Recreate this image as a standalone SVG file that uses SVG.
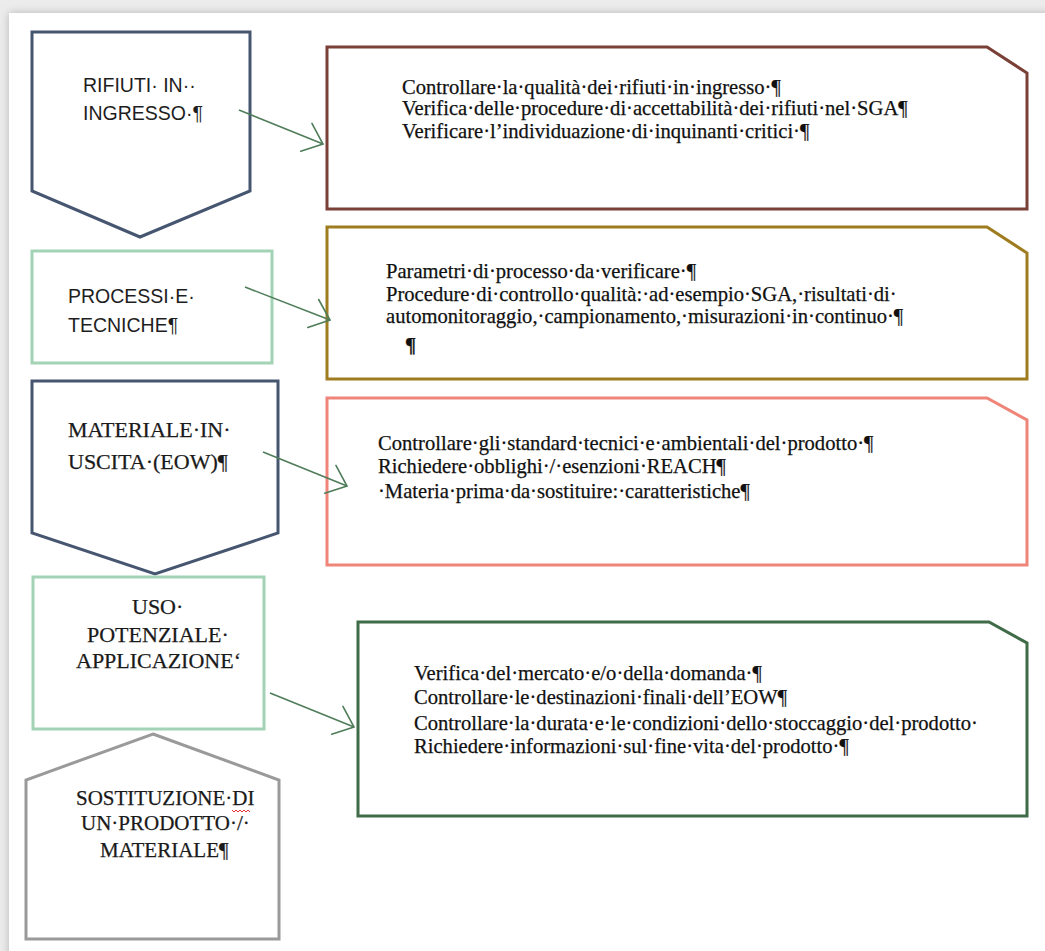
<svg xmlns="http://www.w3.org/2000/svg" width="1045" height="951" viewBox="0 0 1045 951">
  <defs>
    <filter id="shadow" x="-5%" y="-5%" width="110%" height="110%">
      <feGaussianBlur stdDeviation="4"/>
    </filter>
    <marker id="openArrow" markerUnits="userSpaceOnUse" markerWidth="40" markerHeight="40" refX="0" refY="0" viewBox="-20 -20 40 40" orient="auto" overflow="visible">
      <path d="M-18,-15 L0,0 L-18,15" fill="none" stroke="#4f7d5a" stroke-width="1.6" stroke-linecap="round"/>
    </marker>
    <style>
      .shape { fill: #ffffff; stroke-width: 3; stroke-linejoin: miter; }
      .navy { stroke: #465570; }
      .mint { stroke: #a3d3b5; }
      .brown { stroke: #7a4038; }
      .gold { stroke: #9e7c1f; }
      .salmon { stroke: #ef8578; }
      .dkgreen { stroke: #3f6b47; }
      .gray { stroke: #9a9a9a; }
      .sans { font-family: "Liberation Sans", Arial, sans-serif; font-size: 19.5px; fill: #1e1e1e; }
      .serifL { font-family: "Liberation Serif", "Times New Roman", serif; font-size: 22px; fill: #1a1a1a; stroke: #1a1a1a; stroke-width: 0.25; }
      .serifM { font-family: "Liberation Serif", "Times New Roman", serif; font-size: 21px; fill: #1a1a1a; stroke: #1a1a1a; stroke-width: 0.25; }
      .body { font-family: "Liberation Serif", "Times New Roman", serif; font-size: 20.6px; fill: #111111; stroke: #111111; stroke-width: 0.25; }
      .conn { fill: none; stroke: #4f7d5a; stroke-width: 1.6; marker-end: url(#openArrow); }
    </style>
  </defs>

  <!-- page background -->
  <rect x="0" y="0" width="1045" height="951" fill="#ececec"/>
  <rect x="9" y="13" width="1060" height="960" fill="#b5b5b5" filter="url(#shadow)"/>
  <rect x="9" y="13" width="1060" height="960" fill="#ffffff"/>

  <!-- left column nodes -->
  <g id="node-rifiuti">
    <polygon class="shape navy" points="32,32 250,32 250,191 140,237 32,191"/>
    <text class="sans" x="83" y="92">RIFIUTI· IN··</text>
    <text class="sans" x="83" y="120">INGRESSO·¶</text>
  </g>

  <g id="node-processi">
    <rect class="shape mint" x="32" y="251" width="240" height="112"/>
    <text class="sans" x="68" y="303">PROCESSI·E·</text>
    <text class="sans" x="68" y="332">TECNICHE¶</text>
  </g>

  <g id="node-materiale">
    <polygon class="shape navy" points="32,381 278,381 278,533 155,574 32,533"/>
    <text class="serifL" x="68" y="437">MATERIALE·IN·</text>
    <text class="serifL" x="68" y="469">USCITA·(EOW)¶</text>
  </g>

  <g id="node-uso">
    <rect class="shape mint" x="33" y="577" width="231" height="152"/>
    <text class="serifL" x="132" y="614">USO·</text>
    <text class="serifL" x="87" y="642">POTENZIALE·</text>
    <text class="serifL" x="76" y="668">APPLICAZIONE‘</text>
  </g>

  <g id="node-sostituzione">
    <polygon class="shape gray" points="153,734 279,780 279,939 26,939 26,780"/>
    <text class="serifM" x="76" y="805">SOSTITUZIONE·DI</text>
    <path d="M232,810 l2,2 l2,-2 l2,2 l2,-2 l2,2 l2,-2 l2,2 l2,-2 l2,2" fill="none" stroke="#e03030" stroke-width="1"/>
    <text class="serifM" x="81" y="830">UN·PRODOTTO·/·</text>
    <text class="serifM" x="100" y="857">MATERIALE¶</text>
  </g>

  <!-- right column boxes -->
  <g id="box-rifiuti">
    <polygon class="shape brown" points="327,47 987,47 1027,73 1027,209 327,209"/>
    <text class="body" x="402" y="94">Controllare·la·qualità·dei·rifiuti·in·ingresso·¶</text>
    <text class="body" x="402" y="115">Verifica·delle·procedure·di·accettabilità·dei·rifiuti·nel·SGA¶</text>
    <text class="body" x="402" y="138">Verificare·l’individuazione·di·inquinanti·critici·¶</text>
  </g>

  <g id="box-processi">
    <polygon class="shape gold" points="327,227 987,227 1027,253 1027,379 327,379"/>
    <text class="body" x="386" y="278">Parametri·di·processo·da·verificare·¶</text>
    <text class="body" x="386" y="301">Procedure·di·controllo·qualità:·ad·esempio·SGA,·risultati·di·</text>
    <text class="body" x="386" y="323">automonitoraggio,·campionamento,·misurazioni·in·continuo·¶</text>
    <text class="body" x="405" y="352" font-weight="bold">¶</text>
  </g>

  <g id="box-materiale">
    <polygon class="shape salmon" points="327,398 987,398 1027,420 1027,565 327,565"/>
    <text class="body" x="378" y="450">Controllare·gli·standard·tecnici·e·ambientali·del·prodotto·¶</text>
    <text class="body" x="378" y="473">Richiedere·obblighi·/·esenzioni·REACH¶</text>
    <text class="body" x="378" y="498">·Materia·prima·da·sostituire:·caratteristiche¶</text>
  </g>

  <g id="box-uso">
    <polygon class="shape dkgreen" points="358,622 989,622 1027,643 1027,816 358,816"/>
    <text class="body" x="414" y="680">Verifica·del·mercato·e/o·della·domanda·¶</text>
    <text class="body" x="414" y="704">Controllare·le·destinazioni·finali·dell’EOW¶</text>
    <text class="body" x="414" y="730">Controllare·la·durata·e·le·condizioni·dello·stoccaggio·del·prodotto·</text>
    <text class="body" x="414" y="753">Richiedere·informazioni·sul·fine·vita·del·prodotto·¶</text>
  </g>

  <!-- connectors -->
  <g id="connectors">
    <line class="conn" x1="239" y1="110" x2="323" y2="144"/>
    <line class="conn" x1="245" y1="287" x2="330" y2="320"/>
    <line class="conn" x1="263" y1="452" x2="347" y2="486"/>
    <line class="conn" x1="270" y1="693" x2="354" y2="727"/>
  </g>
</svg>
